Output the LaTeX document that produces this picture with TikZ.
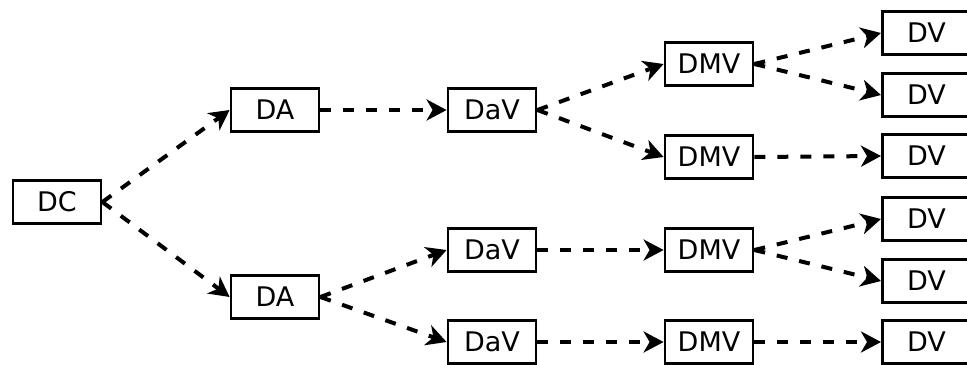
\documentclass[tikz,border=0pt]{standalone}
\usepackage{fontspec}
\setmainfont{DejaVu Sans}
\usetikzlibrary{arrows.meta}

\begin{document}
\begin{tikzpicture}[x=0.5pt,y=-0.5pt,
  box/.style={draw,line width=1.4pt,minimum width=44pt,minimum height=21.5pt,
    inner sep=0pt,font=\fontsize{13.5}{16}\selectfont},
  flow/.style={line width=2pt,dash pattern=on 5.5pt off 6pt,
    -{Stealth[length=10pt,width=10.5pt,inset=3pt]}}]
\clip (0,0) rectangle (967,364);
\node[box] (dc) at (57,202) {DC};
\node[box] (da1) at (275,110) {DA};
\node[box] (da2) at (275,297) {DA};
\node[box] (dav1) at (492,110) {DaV};
\node[box] (dav2) at (492,250) {DaV};
\node[box] (dav3) at (492,342) {DaV};
\node[box] (dmv1) at (709,64) {DMV};
\node[box] (dmv2) at (709,157) {DMV};
\node[box] (dmv3) at (709,250) {DMV};
\node[box] (dmv4) at (709,342) {DMV};
\foreach \i/\y in {1/33,2/95,3/156,4/219,5/281,6/342}
  \node[box,anchor=west] (dv\i) at (881,\y) {DV};

\draw[flow] (dc.east) -- (da1.west);
\draw[flow] (dc.east) -- (da2.west);
\draw[flow] (da1.east) -- (dav1.west);
\draw[flow] (da2.east) -- (dav2.west);
\draw[flow] (da2.east) -- (dav3.west);
\draw[flow] (dav1.east) -- (dmv1.west);
\draw[flow] (dav1.east) -- (dmv2.west);
\draw[flow] (dav2.east) -- (dmv3.west);
\draw[flow] (dav3.east) -- (dmv4.west);
\draw[flow] (dmv1.east) -- (dv1.west);
\draw[flow] (dmv1.east) -- (dv2.west);
\draw[flow] (dmv2.east) -- (dv3.west);
\draw[flow] (dmv3.east) -- (dv4.west);
\draw[flow] (dmv3.east) -- (dv5.west);
\draw[flow] (dmv4.east) -- (dv6.west);
\end{tikzpicture}
\end{document}
